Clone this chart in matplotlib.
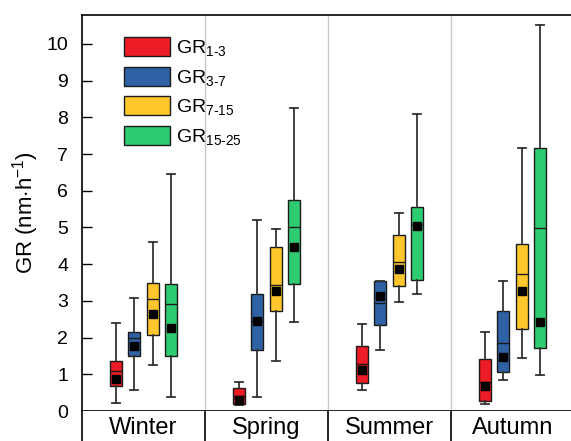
import numpy as np
import matplotlib
matplotlib.use("Agg")
import matplotlib.pyplot as plt
from matplotlib.patches import Patch

plt.rcParams['font.family'] = ['Liberation Sans', 'DejaVu Sans']
plt.rcParams['mathtext.fontset'] = 'custom'
plt.rcParams['mathtext.rm'] = 'Liberation Sans'
plt.rcParams['mathtext.it'] = 'Liberation Sans:italic'

seasons = ['Winter', 'Spring', 'Summer', 'Autumn']
bins = ['1-3', '3-7', '7-15', '15-25']
colors = ['#EE1C25', '#2F62A5', '#FFC72C', '#2ECC71']

# growth-rate statistics per size bin, one value per season
gr_1_3 = dict(whislo=[0.22, 0.17, 0.57, 0.18], q1=[0.68, 0.18, 0.77, 0.28],
              med=[1.08, 0.40, 1.28, 0.78], q3=[1.37, 0.62, 1.78, 1.42],
              whishi=[2.39, 0.80, 2.37, 2.14], mean=[0.87, 0.31, 1.12, 0.68])
gr_3_7 = dict(whislo=[0.57, 0.39, 1.66, 0.84], q1=[1.50, 1.66, 2.34, 1.05],
              med=[1.98, 2.46, 2.93, 1.86], q3=[2.16, 3.18, 3.54, 2.72],
              whishi=[3.07, 5.20, 3.54, 3.55], mean=[1.78, 2.45, 3.14, 1.46])
gr_7_15 = dict(whislo=[1.25, 1.36, 2.96, 1.44], q1=[2.07, 2.72, 3.41, 2.23],
               med=[3.04, 3.43, 4.06, 3.73], q3=[3.50, 4.48, 4.79, 4.54],
               whishi=[4.61, 4.95, 5.39, 7.17], mean=[2.63, 3.28, 3.87, 3.27])
gr_15_25 = dict(whislo=[0.37, 2.42, 3.19, 0.98], q1=[1.50, 3.45, 3.57, 1.71],
                med=[2.91, 5.02, 5.08, 4.98], q3=[3.46, 5.75, 5.57, 7.17],
                whishi=[6.46, 8.26, 8.09, 10.51], mean=[2.25, 4.46, 5.05, 2.43])
series = [gr_1_3, gr_3_7, gr_7_15, gr_15_25]

W, H = 571, 441
fig = plt.figure(figsize=(W / 100, H / 100), dpi=100)
# main panel runs a little past the right edge of the canvas
ax = fig.add_axes([82 / W, (H - 411) / H, 492 / W, 396 / H])
band = fig.add_axes([82 / W, (H - 470) / H, 492 / W, 59 / H])

offsets = [-0.225, -0.075, 0.075, 0.225]
for s, c, off in zip(series, colors, offsets):
    stats = []
    for k in range(len(seasons)):
        stats.append({key: s[key][k] for key in ('whislo', 'q1', 'med', 'q3', 'whishi', 'mean')})
    pos = np.arange(len(seasons)) + 0.5 + off
    ax.bxp(stats, positions=pos, widths=0.098, capwidths=0.065,
           showmeans=True, showfliers=False, patch_artist=True,
           boxprops=dict(facecolor=c, edgecolor='#1a1a1a', linewidth=1.0),
           medianprops=dict(color='#1a1a1a', linewidth=1.0),
           whiskerprops=dict(color='#333333', linewidth=1.3),
           capprops=dict(color='#333333', linewidth=1.3),
           meanprops=dict(marker='s', markerfacecolor='black', markeredgecolor='black',
                          markersize=5.5), manage_ticks=False)

for x in [1, 2, 3]:
    ax.axvline(x, color='#c8c8c8', linewidth=1.0, zorder=0)

ax.set_xlim(0, 4)
ax.set_ylim(0, 10.79)
ax.set_yticks(range(0, 11))
ax.set_xticks([])
ax.tick_params(axis='y', direction='in', length=7, width=1.0, pad=10, labelsize=14)
ax.spines['right'].set_visible(False)
for sp in ['left', 'top', 'bottom']:
    ax.spines[sp].set_linewidth(1.2)
ax.set_ylabel(r'GR (nm$\cdot$h$^{-1}$)', fontsize=16, labelpad=4)

handles = [Patch(facecolor=c, edgecolor='#1a1a1a', linewidth=1.0) for c in colors]
labels = [r'GR$_{\text{%s}}$' % b for b in bins]
leg = ax.legend(handles, labels, loc='upper left', bbox_to_anchor=(124 / W, (H - 37) / H),
                bbox_transform=fig.transFigure, frameon=False, borderpad=0, borderaxespad=0,
                fontsize=14, handlelength=2.37, handleheight=1.13, labelspacing=0.44,
                handletextpad=0.3)

# season labels underneath, separated by black dividers
band.set_xlim(0, 4)
band.set_ylim(0, 1)
band.set_xticks([])
band.set_yticks([])
for sp in ['top', 'right', 'bottom']:
    band.spines[sp].set_visible(False)
band.spines['left'].set_linewidth(1.2)
for x in [1, 2, 3]:
    band.axvline(x, color='black', linewidth=1.2)
for k, name in enumerate(seasons):
    band.text(k + 0.5, 1 - 17 / 59, name, ha='center', va='center', fontsize=17)

fig.savefig('out.png', dpi=100)
